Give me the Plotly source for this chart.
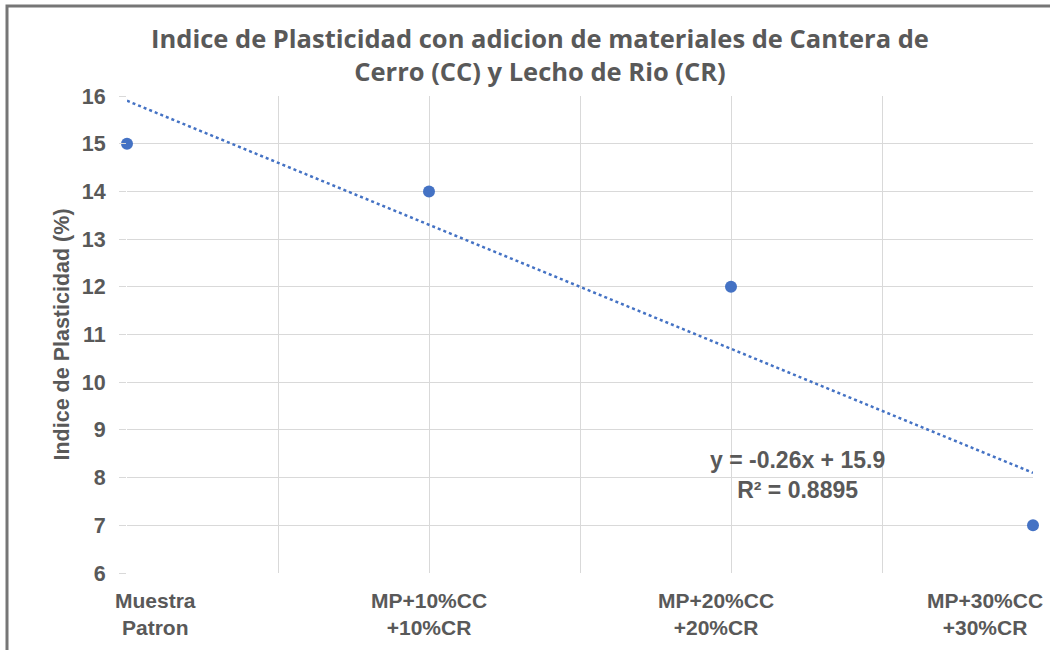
import numpy as np
import plotly.graph_objects as go

categories = ["Muestra<br>Patron", "MP+10%CC<br>+10%CR", "MP+20%CC<br>+20%CR", "MP+30%CC<br>+30%CR"]
pct = [0, 10, 20, 30]
ip_values = [15, 14, 12, 7]

x = np.array(pct, dtype=float)
y = np.array(ip_values, dtype=float)
slope, intercept = np.polyfit(x, y, 1)
pred = slope * x + intercept
r2 = 1 - np.sum((y - pred) ** 2) / np.sum((y - y.mean()) ** 2)

gray = "#595959"
blue = "#4472C4"
grid = "#D9D9D9"

fig = go.Figure()
xt = np.array([x.min(), x.max()])
fig.add_trace(go.Scatter(x=xt, y=slope * xt + intercept, mode="lines",
                         line=dict(color=blue, width=2.5, dash="dot"),
                         hoverinfo="skip", showlegend=False, cliponaxis=False))
fig.add_trace(go.Scatter(x=pct, y=ip_values, mode="markers",
                         marker=dict(color=blue, size=12),
                         showlegend=False, cliponaxis=False))

fig.update_layout(
    width=1050, height=650,
    margin=dict(l=127, r=17, t=96, b=77),
    paper_bgcolor="white", plot_bgcolor="white",
    title=dict(text="Indice de Plasticidad con adicion de materiales de Cantera de<br>Cerro (CC) y Lecho de Rio (CR)",
               x=540 / 1050, xanchor="center", y=1 - 48 / 650, yanchor="middle",
               xref="container", yref="container",
               font=dict(family="Open Sans", size=25.5, color=gray, weight="bold")),
    font=dict(family="Liberation Sans", color=gray),
)
fig.update_xaxes(range=[0, 30], dtick=5, showticklabels=False,
                 showgrid=True, gridcolor=grid, gridwidth=1,
                 zeroline=False, showline=False, ticks="")
fig.update_yaxes(range=[6, 16], dtick=1,
                 showgrid=True, gridcolor=grid, gridwidth=1,
                 zeroline=False, showline=False, ticks="outside", ticklen=7, tickcolor=grid,
                 ticklabelstandoff=9,
                 tickfont=dict(family="Liberation Sans", size=21.5, color=gray, weight="bold"),
                 title=dict(text="Indice de Plasticidad (%)", standoff=6,
                            font=dict(family="Liberation Sans", size=21.5, color=gray, weight="bold")))

# category labels placed under the axis (shifted to stay inside chart like the original)
label_shift = [28, 0, -15, -48]
for xv, txt, sh in zip(pct, categories, label_shift):
    fig.add_annotation(x=xv, y=0, xref="x", yref="paper", yanchor="top", yshift=-14,
                       xshift=sh, text=txt, showarrow=False, align="center",
                       font=dict(family="Liberation Sans", size=21, color=gray, weight="bold"))

fig.add_annotation(x=22.2, y=8.05, xref="x", yref="y",
                   text=f"y = {slope:.2f}x + {intercept:.1f}<br>R² = {r2:.4f}",
                   showarrow=False, align="center",
                   font=dict(family="Liberation Sans", size=23, color=gray, weight="bold"))

# outer chart border
fig.add_shape(type="rect", xref="paper", yref="paper",
              x0=(7 - 127) / 906, x1=(1060 - 127) / 906,
              y0=(573 - 660) / 477, y1=(573 - 6) / 477,
              line=dict(color="#767676", width=3), fillcolor="rgba(0,0,0,0)", layer="above")

fig.write_html("out.html")
